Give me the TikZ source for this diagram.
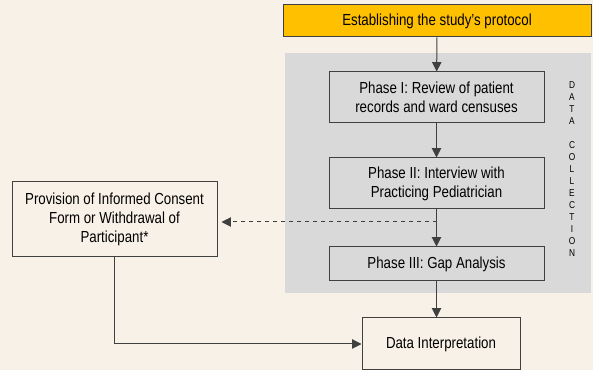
\documentclass[tikz,border=0pt]{standalone}
\usepackage{fontspec}
\setmainfont{Liberation Sans}[FakeStretch=0.83]
\usetikzlibrary{arrows.meta,positioning,calc}
\definecolor{cream}{HTML}{F8F1E7}
\definecolor{panelgray}{HTML}{D9D9D9}
\definecolor{edgegray}{HTML}{404040}
\definecolor{protoyellow}{HTML}{FFC000}

\tikzset{
  stagebox/.style={draw=edgegray,line width=0.75pt,align=center,inner sep=0.75pt,font=\fontsize{12}{14.2}\selectfont},
  flow/.style={draw=edgegray,line width=0.75pt,-{Triangle[length=7pt,width=7pt]}},
}

\begin{document}
\begin{tikzpicture}[x=0.75pt,y=0.75pt,yscale=-1,xscale=1]
%set diagram frame to the full 593 x 370 area
\useasboundingbox[fill=cream] (0,0) rectangle (593,370);

%Shape: data collection panel
\fill[panelgray] (285,53) rectangle (591,293);

% Boxes
\node[stagebox,fill=protoyellow,minimum width=308*0.75pt,minimum height=32*0.75pt] (proto) at (437,21) {Establishing the study's protocol};
\node[stagebox,minimum width=215*0.75pt,minimum height=51*0.75pt] (phaseone) at (436.5,97.5) {Phase I: Review of patient\\records and ward censuses};
\node[stagebox,minimum width=215*0.75pt,minimum height=51*0.75pt] (phasetwo) at (436.5,183.5) {Phase II: Interview with\\Practicing Pediatrician};
\node[stagebox,minimum width=215*0.75pt,minimum height=34*0.75pt] (phasethree) at (436.5,264) {Phase III: Gap Analysis};
\node[stagebox,fill=cream,minimum width=205*0.75pt,minimum height=75*0.75pt] (consent) at (114.5,219.5) {Provision of Informed Consent\\Form or Withdrawal of\\Participant*};
\node[stagebox,fill=cream,minimum width=158*0.75pt,minimum height=52*0.75pt] (interp) at (441,344) {Data Interpretation};

% Text Node: vertical label
\node[align=center,inner sep=0pt,font=\fontsize{7.5}{9}\selectfont] (datacol) at (572,169) {D\\A\\T\\A\\[9pt]C\\O\\L\\L\\E\\C\\T\\I\\O\\N};

% Connectors
\coordinate (split) at (436.5,222);
\draw[flow] (proto) -- (phaseone);
\draw[flow] (phaseone) -- (phasetwo);
\draw[flow] (phasetwo) -- (phasethree);
\draw[flow] (phasethree.south) -- (phasethree.south |- interp.north);
\draw[flow,dashed,shorten >=3pt] (split) -- (split -| consent.east);
\draw[flow] (consent.south) |- (interp.west);

\end{tikzpicture}
\end{document}
